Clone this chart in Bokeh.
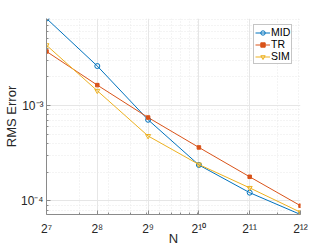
import math
from bokeh.plotting import figure
from bokeh.models import FixedTicker, Range1d, Legend, LegendItem
from bokeh.embed import file_html
from bokeh.resources import INLINE

N = [128, 256, 512, 1024, 2048, 4096]
mid = [8.2e-3, 2.6e-3, 7.1e-4, 2.38e-4, 1.22e-4, 7.2e-5]
tr = [3.7e-3, 1.64e-3, 7.5e-4, 3.64e-4, 1.79e-4, 8.9e-5]
sim = [4.3e-3, 1.43e-3, 4.8e-4, 2.41e-4, 1.37e-4, 7.6e-5]

x_ticks = [128, 256, 512, 1024, 2048, 4096]
x_tick_labels = ["2⁷", "2⁸", "2⁹", "2¹⁰", "2¹¹", "2¹²"]
x_minor = [200, 300, 400, 500, 600, 700, 800, 900, 1000, 2000, 3000, 4000]
y_ticks = [1e-4, 1e-3]
y_tick_labels = ["10⁻⁴", "10⁻³"]
y_minor = [8e-5, 9e-5, 2e-4, 3e-4, 4e-4, 5e-4, 6e-4, 7e-4, 8e-4, 9e-4,
           2e-3, 3e-3, 4e-3, 5e-3, 6e-3, 7e-3, 8e-3]

allv = mid + tr + sim
FONT = "Liberation Sans"

p = figure(width=332, height=249, x_axis_type="log", y_axis_type="log",
           output_backend="svg", toolbar_location=None,
           x_range=Range1d(min(N), max(N)), y_range=Range1d(min(allv), max(allv)),
           x_axis_label="N", y_axis_label="RMS Error",
           min_border_left=43, min_border_right=32, min_border_top=18, min_border_bottom=35)
p.outline_line_color = None
p.background_fill_color = "white"
p.border_fill_color = "white"

p.xaxis.ticker = FixedTicker(ticks=x_ticks, minor_ticks=x_minor)
p.yaxis.ticker = FixedTicker(ticks=y_ticks, minor_ticks=y_minor)
p.xaxis.major_label_overrides = {t: l for t, l in zip(x_ticks, x_tick_labels)}
p.yaxis.major_label_overrides = {t: l for t, l in zip(y_ticks, y_tick_labels)}

for ax in (p.xaxis, p.yaxis):
    ax.axis_line_color = "#8a8a8a"
    ax.major_tick_line_color = "#8a8a8a"
    ax.minor_tick_line_color = "#8a8a8a"
    ax.major_tick_in = 4
    ax.major_tick_out = 0
    ax.minor_tick_in = 2
    ax.minor_tick_out = 0
    ax.major_label_text_font = FONT
    ax.major_label_text_font_size = "12px"
    ax.major_label_text_color = "#262626"
    ax.major_label_text_line_height = 1.0
    ax.axis_label_text_font = FONT
    ax.axis_label_text_font_size = "13px"
    ax.axis_label_text_font_style = "normal"
    ax.axis_label_text_color = "#262626"
    ax.axis_label_text_line_height = 1.0
p.xaxis.major_label_standoff = 7
p.xaxis.axis_label_standoff = -8
p.yaxis.major_label_standoff = 3
p.yaxis.axis_label_standoff = -1

for g in (p.xgrid, p.ygrid):
    g.grid_line_color = "#e6e6e6"
    g.grid_line_width = 1
    g.minor_grid_line_color = "#e9e9e9"
    g.minor_grid_line_dash = "1 2"
    g.minor_grid_line_width = 1

series = [("MID", mid, "#0072BD", "circle"),
          ("TR", tr, "#D95319", "asterisk"),
          ("SIM", sim, "#EDB120", "inverted_triangle")]
items = []
for name, vals, col, mk in series:
    l = p.line(N, vals, line_color=col, line_width=1)
    if mk == "asterisk":
        s = p.scatter(N, vals, marker="square", size=3.5, line_color=col, fill_color=col)
    else:
        s = p.scatter(N, vals, marker=mk, size=5, line_color=col, fill_color=None, line_width=1)
    items.append(LegendItem(label=name, renderers=[l, s]))

leg = Legend(items=items, location=(207, 150))
leg.label_text_font = FONT
leg.label_text_font_size = "10.5px"
leg.label_text_color = "#000000"
leg.glyph_width = 15
leg.glyph_height = 11
leg.label_height = 11
leg.label_width = 10
leg.label_standoff = 1
leg.spacing = 0
leg.padding = 1
leg.margin = 0
leg.border_line_color = "#8c8c8c"
leg.border_line_width = 1
leg.background_fill_color = "white"
leg.background_fill_alpha = 1
p.add_layout(leg)

open("out.html", "w").write(file_html(p, INLINE))
